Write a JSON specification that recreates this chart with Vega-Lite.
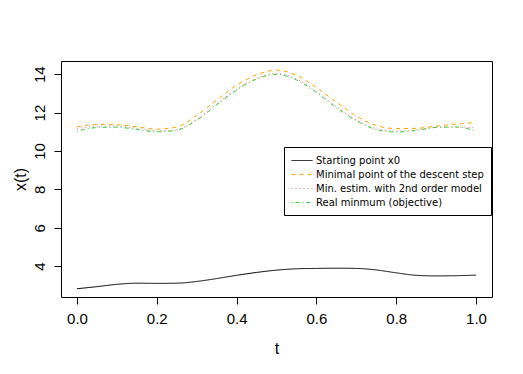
{
  "$schema": "https://vega.github.io/schema/vega-lite/v6.json",
  "width": 431,
  "height": 236,
  "autosize": {"type": "none"},
  "padding": {"left": 61, "top": 61, "right": 31, "bottom": 77},
  "background": "white",
  "config": {
    "view": {"stroke": "black", "strokeWidth": 1},
    "axis": {"labelFont": "Liberation Sans", "titleFont": "Liberation Sans", "labelFontSize": 15, "titleFontSize": 16, "titleFontWeight": "normal", "labelColor": "black", "titleColor": "black", "tickColor": "black", "tickSize": 7, "grid": false, "domain": false}
  },
  "data": {
    "values": [
      {"t": 0.0, "x0": 2.82, "step": 11.26, "model": 11.18, "real": 11.03},
      {"t": 0.05, "x0": 2.93, "step": 11.38, "model": 11.28, "real": 11.22},
      {"t": 0.1, "x0": 3.05, "step": 11.37, "model": 11.3, "real": 11.24},
      {"t": 0.15, "x0": 3.11, "step": 11.26, "model": 11.18, "real": 11.12},
      {"t": 0.2, "x0": 3.1, "step": 11.14, "model": 11.05, "real": 11.0},
      {"t": 0.25, "x0": 3.11, "step": 11.25, "model": 11.12, "real": 11.08},
      {"t": 0.3, "x0": 3.2, "step": 11.86, "model": 11.65, "real": 11.6},
      {"t": 0.35, "x0": 3.35, "step": 12.65, "model": 12.45, "real": 12.4},
      {"t": 0.4, "x0": 3.52, "step": 13.43, "model": 13.22, "real": 13.17},
      {"t": 0.45, "x0": 3.67, "step": 13.97, "model": 13.8, "real": 13.75},
      {"t": 0.5, "x0": 3.79, "step": 14.21, "model": 14.04, "real": 14.0},
      {"t": 0.55, "x0": 3.86, "step": 13.95, "model": 13.75, "real": 13.7},
      {"t": 0.6, "x0": 3.88, "step": 13.3, "model": 13.1, "real": 13.05},
      {"t": 0.65, "x0": 3.89, "step": 12.55, "model": 12.3, "real": 12.25},
      {"t": 0.7, "x0": 3.88, "step": 11.82, "model": 11.62, "real": 11.58},
      {"t": 0.75, "x0": 3.8, "step": 11.33, "model": 11.16, "real": 11.12},
      {"t": 0.8, "x0": 3.65, "step": 11.17, "model": 11.03, "real": 10.99},
      {"t": 0.85, "x0": 3.52, "step": 11.18, "model": 11.1, "real": 11.07},
      {"t": 0.9, "x0": 3.49, "step": 11.3, "model": 11.23, "real": 11.23},
      {"t": 0.95, "x0": 3.5, "step": 11.4, "model": 11.25, "real": 11.25},
      {"t": 1.0, "x0": 3.53, "step": 11.48, "model": 11.2, "real": 11.03}
    ]
  },
  "transform": [
    {"fold": ["x0", "step", "model", "real"], "as": ["series", "value"]}
  ],
  "mark": {"type": "line", "strokeWidth": 1, "interpolate": "monotone", "clip": true},
  "encoding": {
    "x": {
      "field": "t", "type": "quantitative",
      "scale": {"domain": [-0.04, 1.04], "nice": false, "zero": false},
      "axis": {"values": [0, 0.2, 0.4, 0.6, 0.8, 1.0], "format": ".1f", "title": "t", "labelPadding": 7, "titlePadding": 14}
    },
    "y": {
      "field": "value", "type": "quantitative",
      "scale": {"domain": [2.39, 14.69], "nice": false, "zero": false},
      "axis": {"values": [4, 6, 8, 10, 12, 14], "title": "x(t)", "labelAngle": 270, "labelAlign": "center", "labelBaseline": "bottom", "labelPadding": 7, "titlePadding": 4}
    },
    "color": {
      "field": "series", "type": "nominal",
      "scale": {"domain": ["x0", "step", "model", "real"], "range": ["black", "#ffa500", "#ff6a8a", "#2fd02f"]},
      "legend": {
        "title": null, "orient": "none", "legendX": 223, "legendY": 86,
        "strokeColor": "black", "fillColor": "white", "padding": 7,
        "labelFont": "DejaVu Sans", "labelFontSize": 10, "labelColor": "black", "labelLimit": 0,
        "symbolType": "M-1,0H2.5", "symbolSize": 144, "symbolStrokeWidth": 1,
        "labelOffset": 12, "rowPadding": 2,
        "labelExpr": "{'x0':'Starting point x0','step':'Minimal point of the descent step','model':'Min. estim. with 2nd order model','real':'Real minmum (objective)'}[datum.value]"
      }
    },
    "strokeDash": {
      "field": "series", "type": "nominal",
      "scale": {"domain": ["x0", "step", "model", "real"], "range": [[1, 0], [4, 4], [1, 3], [1, 3, 4, 3]]},
      "legend": null
    },
    "order": {"field": "t", "type": "quantitative"}
  }
}
